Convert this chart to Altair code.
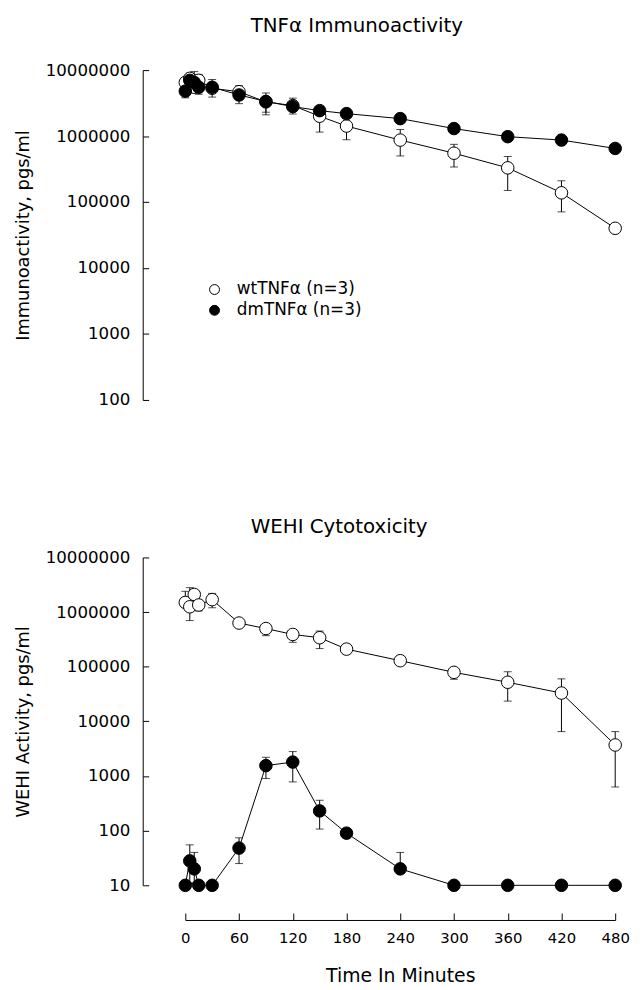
import altair as alt
import pandas as pd

FONT = "DejaVu Sans"
WT = "wtTNFα (n=3)"
DM = "dmTNFα (n=3)"

times = [0, 5, 10, 15, 30, 60, 90, 120, 150, 180, 240, 300, 360, 420, 480]
x_ticks = [0, 60, 120, 180, 240, 300, 360, 420, 480]

# Top panel: TNFα immunoactivity, pgs/ml
imm_wt = [6.5e6, 7.5e6, 5.5e6, 7.0e6, 5.3e6, 4.7e6, 3.3e6, 2.9e6, 2.0e6, 1.42e6, 8.7e5, 5.5e5, 3.3e5, 1.38e5, 4.0e4]
imm_wt_lo = [5.0e6, None, None, None, None, None, 2.1e6, None, 1.15e6, 8.8e5, 5.0e5, 3.4e5, 1.5e5, 7.1e4, None]
imm_wt_hi = [None, 9.0e6, None, 8.6e6, None, 5.8e6, None, None, None, None, 1.26e6, 7.5e5, 4.9e5, 2.1e5, None]
imm_dm = [4.8e6, 7.0e6, 6.5e6, 5.5e6, 5.5e6, 4.2e6, 3.35e6, 2.8e6, 2.43e6, 2.19e6, 1.84e6, 1.30e6, 9.8e5, 8.7e5, 6.5e5]
imm_dm_lo = [3.8e6, None, None, 4.3e6, 3.9e6, 3.1e6, 2.3e6, 2.16e6, None, None, None, None, None, None, None]
imm_dm_hi = [None, 8.5e6, 9.5e6, None, 7.2e6, None, 4.5e6, 3.76e6, None, None, None, None, None, None, None]
imm_ticks = [100, 1000, 10000, 100000, 1000000, 10000000]

# Bottom panel: WEHI cytotoxicity, pgs/ml
wehi_wt = [1.5e6, 1.25e6, 2.1e6, 1.35e6, 1.69e6, 6.3e5, 5.0e5, 3.9e5, 3.4e5, 2.1e5, 1.29e5, 7.9e4, 5.2e4, 3.3e4, 3.7e3]
wehi_wt_lo = [None, 7.0e5, None, 1.05e6, 1.2e6, None, 3.7e5, 2.8e5, 2.15e5, None, None, 5.9e4, 2.35e4, 6.5e3, 630]
wehi_wt_hi = [2.4e6, 2.8e6, None, None, 2.2e6, None, None, None, 4.5e5, None, None, None, 8.1e4, 6.0e4, 6.5e3]
wehi_dm = [10, 28, 20, 10, 10, 48, 1550, 1800, 230, 90, 20, 10, 10, 10, 10]
wehi_dm_lo = [None, 11, 11, None, None, 25, 900, 780, 107, 75, None, None, None, None, None]
wehi_dm_hi = [None, 55, 40, None, None, 74, 2200, 2800, 360, None, 40, None, None, None, None]
wehi_ticks = [10, 100, 1000, 10000, 100000, 1000000, 10000000]


def frames(wt, wt_lo, wt_hi, dm, dm_lo, dm_hi):
    pts, errs = [], []
    for name, vals, lo, hi in [(WT, wt, wt_lo, wt_hi), (DM, dm, dm_lo, dm_hi)]:
        for t, v, l, h in zip(times, vals, lo, hi):
            pts.append({"t": t, "v": v, "series": name})
            for end in (l, h):
                if end is not None:
                    errs.append({"t": t, "v": v, "end": end, "series": name})
    return pd.DataFrame(pts), pd.DataFrame(errs)


def panel(pts, errs, ydomain, yvals, ytitle, title, title_offset, xaxis, legend, height):
    xs = alt.Scale(domain=[0, 480], nice=False, zero=False)
    ys = alt.Scale(type="log", domain=ydomain, nice=False)
    yaxis = alt.Axis(values=yvals, format="d", offset=43, tickSize={"expr": "-6"},
                     labelPadding=19, labelFontSize=16.8, titleFontSize=18,
                     titlePadding=13, title=ytitle)
    X = alt.X("t:Q", scale=xs, axis=xaxis)
    fill = alt.Fill("series:N", scale=alt.Scale(domain=[WT, DM], range=["white", "black"]),
                    legend=legend)
    lines = alt.Chart(pts).mark_line(color="black", strokeWidth=1).encode(
        x=X, y=alt.Y("v:Q", scale=ys, axis=yaxis), detail="series:N")
    bars = alt.Chart(errs).mark_rule(color="black", strokeWidth=1).encode(
        x=X, y=alt.Y("v:Q", scale=ys, axis=yaxis), y2="end:Q")
    caps = alt.Chart(errs).mark_tick(orient="horizontal", color="black", size=8, thickness=1).encode(
        x=X, y=alt.Y("end:Q", scale=ys, axis=yaxis))
    wt_pts = alt.Chart(pts).transform_filter(alt.datum.series == WT).mark_point(
        shape="circle", filled=True, size=160, stroke="black", strokeWidth=1, opacity=1).encode(
        x=X, y=alt.Y("v:Q", scale=ys, axis=yaxis), fill=fill)
    dm_pts = alt.Chart(pts).transform_filter(alt.datum.series == DM).mark_point(
        shape="circle", filled=True, size=160, stroke="black", strokeWidth=1, opacity=1).encode(
        x=X, y=alt.Y("v:Q", scale=ys, axis=yaxis), fill=fill)
    return alt.layer(lines, bars, caps, wt_pts, dm_pts).properties(
        width=434, height=height, title=alt.Title(title, offset=title_offset))


top_pts, top_errs = frames(imm_wt, imm_wt_lo, imm_wt_hi, imm_dm, imm_dm_lo, imm_dm_hi)
bot_pts, bot_errs = frames(wehi_wt, wehi_wt_lo, wehi_wt_hi, wehi_dm, wehi_dm_lo, wehi_dm_hi)

legend = alt.Legend(title=None, orient="none", legendX=21, legendY=213, symbolType="circle",
                    symbolSize=100, symbolStrokeColor="black", symbolStrokeWidth=1,
                    labelFont=FONT, labelFontSize=17, labelOffset=14, rowPadding=3,
                    padding=0, labelColor="black")

xaxis_bottom = alt.Axis(values=x_ticks, format="d", offset=35, tickSize={"expr": "-7"},
                        labelPadding=18, labelFontSize=15, labelFlush=False,
                        title="Time In Minutes", titleFontSize=19, titlePadding=21)

top = panel(top_pts, top_errs, [100, 1e7], imm_ticks, "Immunoactivity, pgs/ml",
            "TNFα Immunoactivity", 26, None, legend, 333)
bottom = panel(bot_pts, bot_errs, [10, 1e7], wehi_ticks, "WEHI Activity, pgs/ml",
               "WEHI Cytotoxicity", 13, xaxis_bottom, None, 331)

chart = alt.vconcat(top, bottom, spacing=109).resolve_scale(fill="independent").resolve_legend(
    fill="independent").properties(
    padding={"left": 6, "top": 4, "right": 5, "bottom": 2}).configure_view(
    stroke=None).configure_axis(
    domainColor="black", tickColor="black", labelColor="black", titleColor="black",
    grid=False, labelFont=FONT, titleFont=FONT, titleFontWeight="normal",
    domainWidth=1, tickWidth=1).configure_title(
    font=FONT, fontSize=20, fontWeight="normal", color="black", anchor="start",
    frame="group", dx=66)

chart.save("out.html", embed_options={"renderer": "svg", "actions": False})
